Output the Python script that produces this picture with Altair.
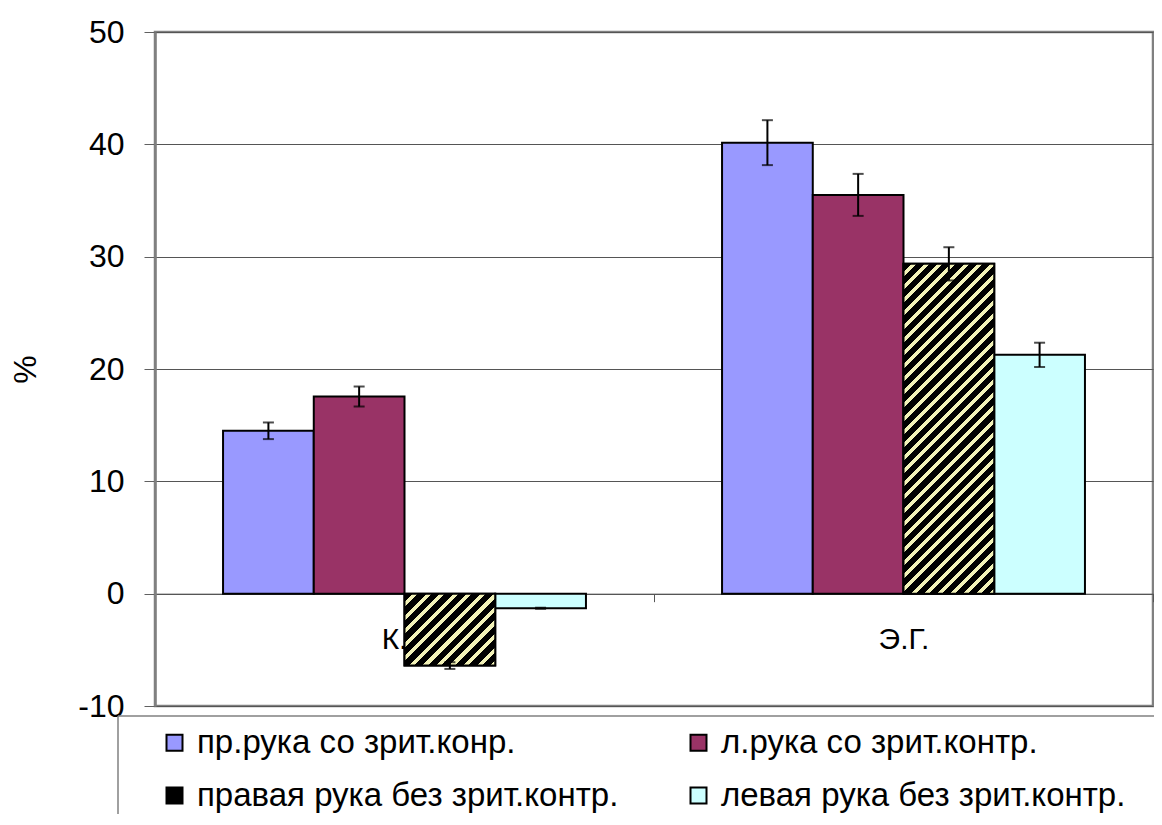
import math
import altair as alt
import pandas as pd

groups = ["К.Г.", "Э.Г."]
series = [
    "пр.рука со зрит.конр.",
    "л.рука со зрит.контр.",
    "правая рука без зрит.контр.",
    "левая рука без зрит.контр.",
]
kg_values = [14.5, 17.55, -6.4, -1.3]
kg_errors = [0.74, 0.89, 0.3, 0.05]
eg_values = [40.15, 35.5, 29.36, 21.26]
eg_errors = [2.0, 1.87, 1.48, 1.08]
colors = ["#9999FF", "#993366", "#000000", "#CCFFFF"]
y_ticks = [-10, 0, 10, 20, 30, 40, 50]

FONT = "Liberation Sans"
W, H = 998, 674
Y_MIN, Y_MAX = -10, 50
PPU = H / (Y_MAX - Y_MIN)
OFF_PAD = 0.75
BAR_W = (W / len(groups)) / (len(series) + 2 * OFF_PAD)

rows = []
for g, vals, errs in [(groups[0], kg_values, kg_errors), (groups[1], eg_values, eg_errors)]:
    for s, v, e in zip(series, vals, errs):
        rows.append({"group": g, "series": s, "value": v, "err": e})
df = pd.DataFrame(rows)


def hatch(value):
    w = BAR_W
    h = abs(value) * PPU
    period = 9.2
    n = max(1, round((w + h) / math.sqrt(2) / period))
    frac = 0.62
    stops = []
    for k in range(n):
        a = k / n
        b = (k + frac) / n
        c = (k + 1) / n
        stops += [
            alt.GradientStop(color="#000000", offset=a),
            alt.GradientStop(color="#000000", offset=b),
            alt.GradientStop(color="#F2F2B8", offset=b),
            alt.GradientStop(color="#F2F2B8", offset=c),
        ]
    d = w * w + h * h
    return alt.LinearGradient(
        gradient="linear",
        stops=stops,
        x1=0, y1=0,
        x2=w * (w + h) / d,
        y2=h * (w + h) / d,
    )


x_enc = alt.X(
    "group:N",
    sort=groups,
    scale=alt.Scale(domain=groups, paddingInner=0, paddingOuter=0),
    axis=alt.Axis(
        title=None,
        orient="bottom",
        offset=-(0 - Y_MIN) * PPU,
        labelAngle=0,
        labelFont=FONT,
        labelFontSize=30,
        labelColor="black",
        labelPadding=23,
        domainColor="#555555",
        domainWidth=1,
        tickColor="#555555",
        tickSize=8,
        tickBand="extent",
        grid=False,
        zindex=0,
    ),
)
xo_enc = alt.XOffset(
    "series:N",
    sort=series,
    scale=alt.Scale(domain=series, paddingOuter=OFF_PAD, paddingInner=0),
)
y_enc = alt.Y(
    "value:Q",
    scale=alt.Scale(domain=[Y_MIN, Y_MAX], nice=False, zero=False),
    axis=alt.Axis(
        values=y_ticks,
        labelExpr="'' + datum.value",
        title="%",
        titleFont=FONT,
        titleFontSize=32,
        titleFontWeight="normal",
        titleColor="black",
        titleAngle=270,
        titleX=-130,
        titleY=337,
        titleAlign="center",
        titleBaseline="middle",
        labelFont=FONT,
        labelFontSize=32,
        labelColor="black",
        labelPadding=20,
        tickSize=11,
        tickColor="#606060",
        domainColor="#808080",
        domainWidth=2.5,
        gridColor="#555555",
        gridWidth=1,
    ),
)

base = alt.Chart(df).encode(x=x_enc, xOffset=xo_enc)

bars = base.mark_bar(stroke="black", strokeWidth=2, opacity=1).encode(
    y=y_enc,
    color=alt.Color(
        "series:N",
        sort=series,
        scale=alt.Scale(domain=series, range=colors),
        legend=alt.Legend(
            title=None,
            orient="none",
            legendX=3,
            legendY=694,
            columns=2,
            direction="horizontal",
            symbolType="square",
            symbolSize=256,
            symbolStrokeColor="black",
            symbolStrokeWidth=2,
            symbolOpacity=1,
            labelFont=FONT,
            labelFontSize=33,
            labelColor="black",
            labelOffset=6,
            labelLimit=0,
            rowPadding=19,
            columnPadding=63,
        ),
    ),
)

hatched = []
for g, vals in [(groups[0], kg_values), (groups[1], eg_values)]:
    v = vals[2]
    hatched.append(
        base.transform_filter(
            (alt.datum.group == g) & (alt.datum.series == series[2])
        )
        .mark_bar(fill=hatch(v), stroke="black", strokeWidth=2)
        .encode(y=alt.Y("value:Q"))
    )

err_base = base.transform_calculate(
    lo="datum.value - datum.err", hi="datum.value + datum.err"
)
err_rule = err_base.mark_rule(color="black", strokeWidth=2).encode(
    y=alt.Y("lo:Q"), y2="hi:Q"
)
cap_hi = err_base.mark_tick(color="black", thickness=2, size=11).encode(y=alt.Y("hi:Q"))
cap_lo = err_base.mark_tick(color="black", thickness=2, size=11).encode(y=alt.Y("lo:Q"))

box = pd.DataFrame({"k": [0]})
box_top = alt.Chart(box).mark_rule(color="#808080", strokeWidth=1.5).encode(
    x=alt.value(-37), x2=alt.value(1010), y=alt.value(684)
)
box_left = alt.Chart(box).mark_rule(color="#808080", strokeWidth=1.5).encode(
    x=alt.value(-37), y=alt.value(684), y2=alt.value(800)
)

chart = (
    alt.layer(bars, *hatched, err_rule, cap_hi, cap_lo, box_top, box_left)
    .properties(
        width=W,
        height=H,
        autosize=alt.AutoSizeParams(type="none"),
        padding={"left": 147, "top": 24, "right": 1, "bottom": 108},
        background="white",
    )
    .configure_view(stroke="#808080", strokeWidth=2.5)
)

chart.save("out.html", embed_options={"renderer": "svg", "actions": False})
